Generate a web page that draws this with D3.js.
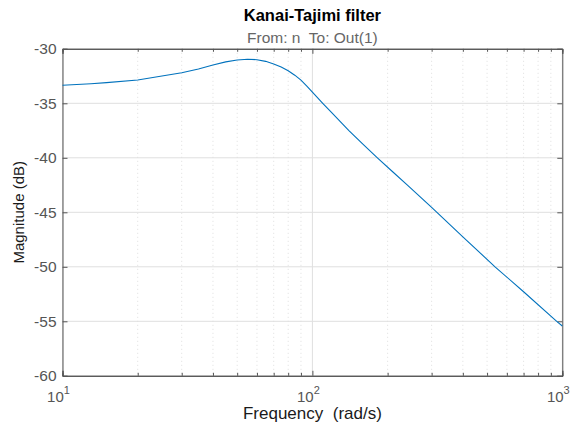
<!DOCTYPE html>
<html>
<head>
<meta charset="utf-8">
<script src="https://cdn.jsdelivr.net/npm/d3@7"></script>
<style>
  body { margin: 0; background: #fff; }
  text { font-family: "Liberation Sans", Arial, sans-serif; }
</style>
</head>
<body>
<script>
// values
var freq = [10, 13, 15, 20, 25, 30, 35, 40, 45, 50, 55, 60, 65, 70, 75, 80, 85, 90, 95, 100, 105, 110, 120, 140, 160, 182, 210, 240, 300, 400, 538, 700, 950, 1000];
var magDb = [-33.35, -33.2, -33.1, -32.86, -32.5, -32.19, -31.85, -31.49, -31.2, -31.03, -30.96, -31.0, -31.15, -31.39, -31.68, -32.02, -32.42, -32.88, -33.42, -33.98, -34.5, -35.0, -35.9, -37.5, -38.8, -40.0, -41.3, -42.5, -44.55, -47.25, -50, -52.29, -55, -55.43];
var yTicks = [-60, -55, -50, -45, -40, -35, -30];
var xMajor = [10, 100, 1000];
var xExp = [1, 2, 3];
var xMinor = [20, 30, 40, 50, 60, 70, 80, 90, 200, 300, 400, 500, 600, 700, 800, 900];

var W = 576, H = 426;
var pLeft = 62.5, pRight = 562.3, pTop = 48.8, pBottom = 375.8;

var svg = d3.select("body").append("svg")
	.attr("width", W)
	.attr("height", H);

var x = d3.scaleLog().domain([10, 1000]).range([pLeft, pRight]);
var y = d3.scaleLinear().domain([-60, -30]).range([pBottom, pTop]);

// grid
var grid = svg.append("g");
grid.selectAll("line.minor")
	.data(xMinor)
	.enter()
	.append("line")
	.attr("x1", function(d){ return x(d); })
	.attr("x2", function(d){ return x(d); })
	.attr("y1", pTop)
	.attr("y2", pBottom)
	.attr("stroke", "#dedede")
	.attr("stroke-width", 1)
	.attr("stroke-dasharray", "1,3");
grid.selectAll("line.hx")
	.data(yTicks)
	.enter()
	.append("line")
	.attr("x1", pLeft)
	.attr("x2", pRight)
	.attr("y1", function(d){ return y(d); })
	.attr("y2", function(d){ return y(d); })
	.attr("stroke", "#dfdfdf");
grid.selectAll("line.vx")
	.data(xMajor)
	.enter()
	.append("line")
	.attr("x1", function(d){ return x(d); })
	.attr("x2", function(d){ return x(d); })
	.attr("y1", pTop)
	.attr("y2", pBottom)
	.attr("stroke", "#dfdfdf");

// axes with inward ticks
var axes = [
	[d3.axisBottom(x).tickValues(xMinor).tickSize(-3), "translate(0," + pBottom + ")"],
	[d3.axisTop(x).tickValues(xMinor).tickSize(-3), "translate(0," + pTop + ")"],
	[d3.axisBottom(x).tickValues(xMajor).tickSize(-5), "translate(0," + pBottom + ")"],
	[d3.axisTop(x).tickValues(xMajor).tickSize(-5), "translate(0," + pTop + ")"],
	[d3.axisLeft(y).tickValues(yTicks).tickSize(-5), "translate(" + pLeft + ",0)"],
	[d3.axisRight(y).tickValues(yTicks).tickSize(-5), "translate(" + pRight + ",0)"]
];
axes.forEach(function(a){
	var g = svg.append("g").attr("transform", a[1]).call(a[0].tickFormat(""));
	g.select(".domain").attr("stroke", "#555").attr("stroke-width", 1);
	g.selectAll(".tick line").attr("stroke", "#555");
});

// line
var line = d3.line()
	.x(function(d){ return x(d[0]); })
	.y(function(d){ return y(d[1]); });
svg.append("path")
	.datum(d3.zip(freq, magDb))
	.attr("d", line)
	.attr("fill", "none")
	.attr("stroke", "#0072bd")
	.attr("stroke-width", 1.1);

// tick labels
svg.selectAll("text.yl")
	.data(yTicks)
	.enter()
	.append("text")
	.attr("x", pLeft - 6)
	.attr("y", function(d){ return y(d); })
	.attr("dy", "0.36em")
	.attr("text-anchor", "end")
	.attr("font-size", 15.5)
	.attr("fill", "#555")
	.text(function(d){ return d; });

var xl = svg.selectAll("text.xl")
	.data(xMajor)
	.enter()
	.append("text")
	.attr("x", function(d){ return x(d) - 4; })
	.attr("y", pBottom + 26)
	.attr("text-anchor", "middle")
	.attr("font-size", 15)
	.attr("fill", "#555");
xl.append("tspan").text("10");
xl.append("tspan")
	.attr("dy", -8)
	.attr("font-size", 11)
	.text(function(d, i){ return xExp[i]; });

// titles
svg.append("text")
	.attr("x", (pLeft + pRight) / 2)
	.attr("y", 21)
	.attr("text-anchor", "middle")
	.attr("font-size", 16.5)
	.attr("font-weight", "bold")
	.attr("fill", "#000")
	.text("Kanai-Tajimi filter");
svg.append("text")
	.attr("x", (pLeft + pRight) / 2)
	.attr("y", 43)
	.attr("text-anchor", "middle")
	.attr("font-size", 15.5)
	.attr("fill", "#666")
	.style("white-space", "pre")
	.text("From: n  To: Out(1)");
svg.append("text")
	.attr("x", (pLeft + pRight) / 2)
	.attr("y", 419)
	.attr("text-anchor", "middle")
	.attr("font-size", 17)
	.attr("fill", "#1a1a1a")
	.style("white-space", "pre")
	.text("Frequency  (rad/s)");
svg.append("text")
	.attr("transform", "translate(24," + ((pTop + pBottom) / 2) + ") rotate(-90)")
	.attr("text-anchor", "middle")
	.attr("font-size", 15)
	.attr("fill", "#1a1a1a")
	.text("Magnitude (dB)");
</script>
</body>
</html>
